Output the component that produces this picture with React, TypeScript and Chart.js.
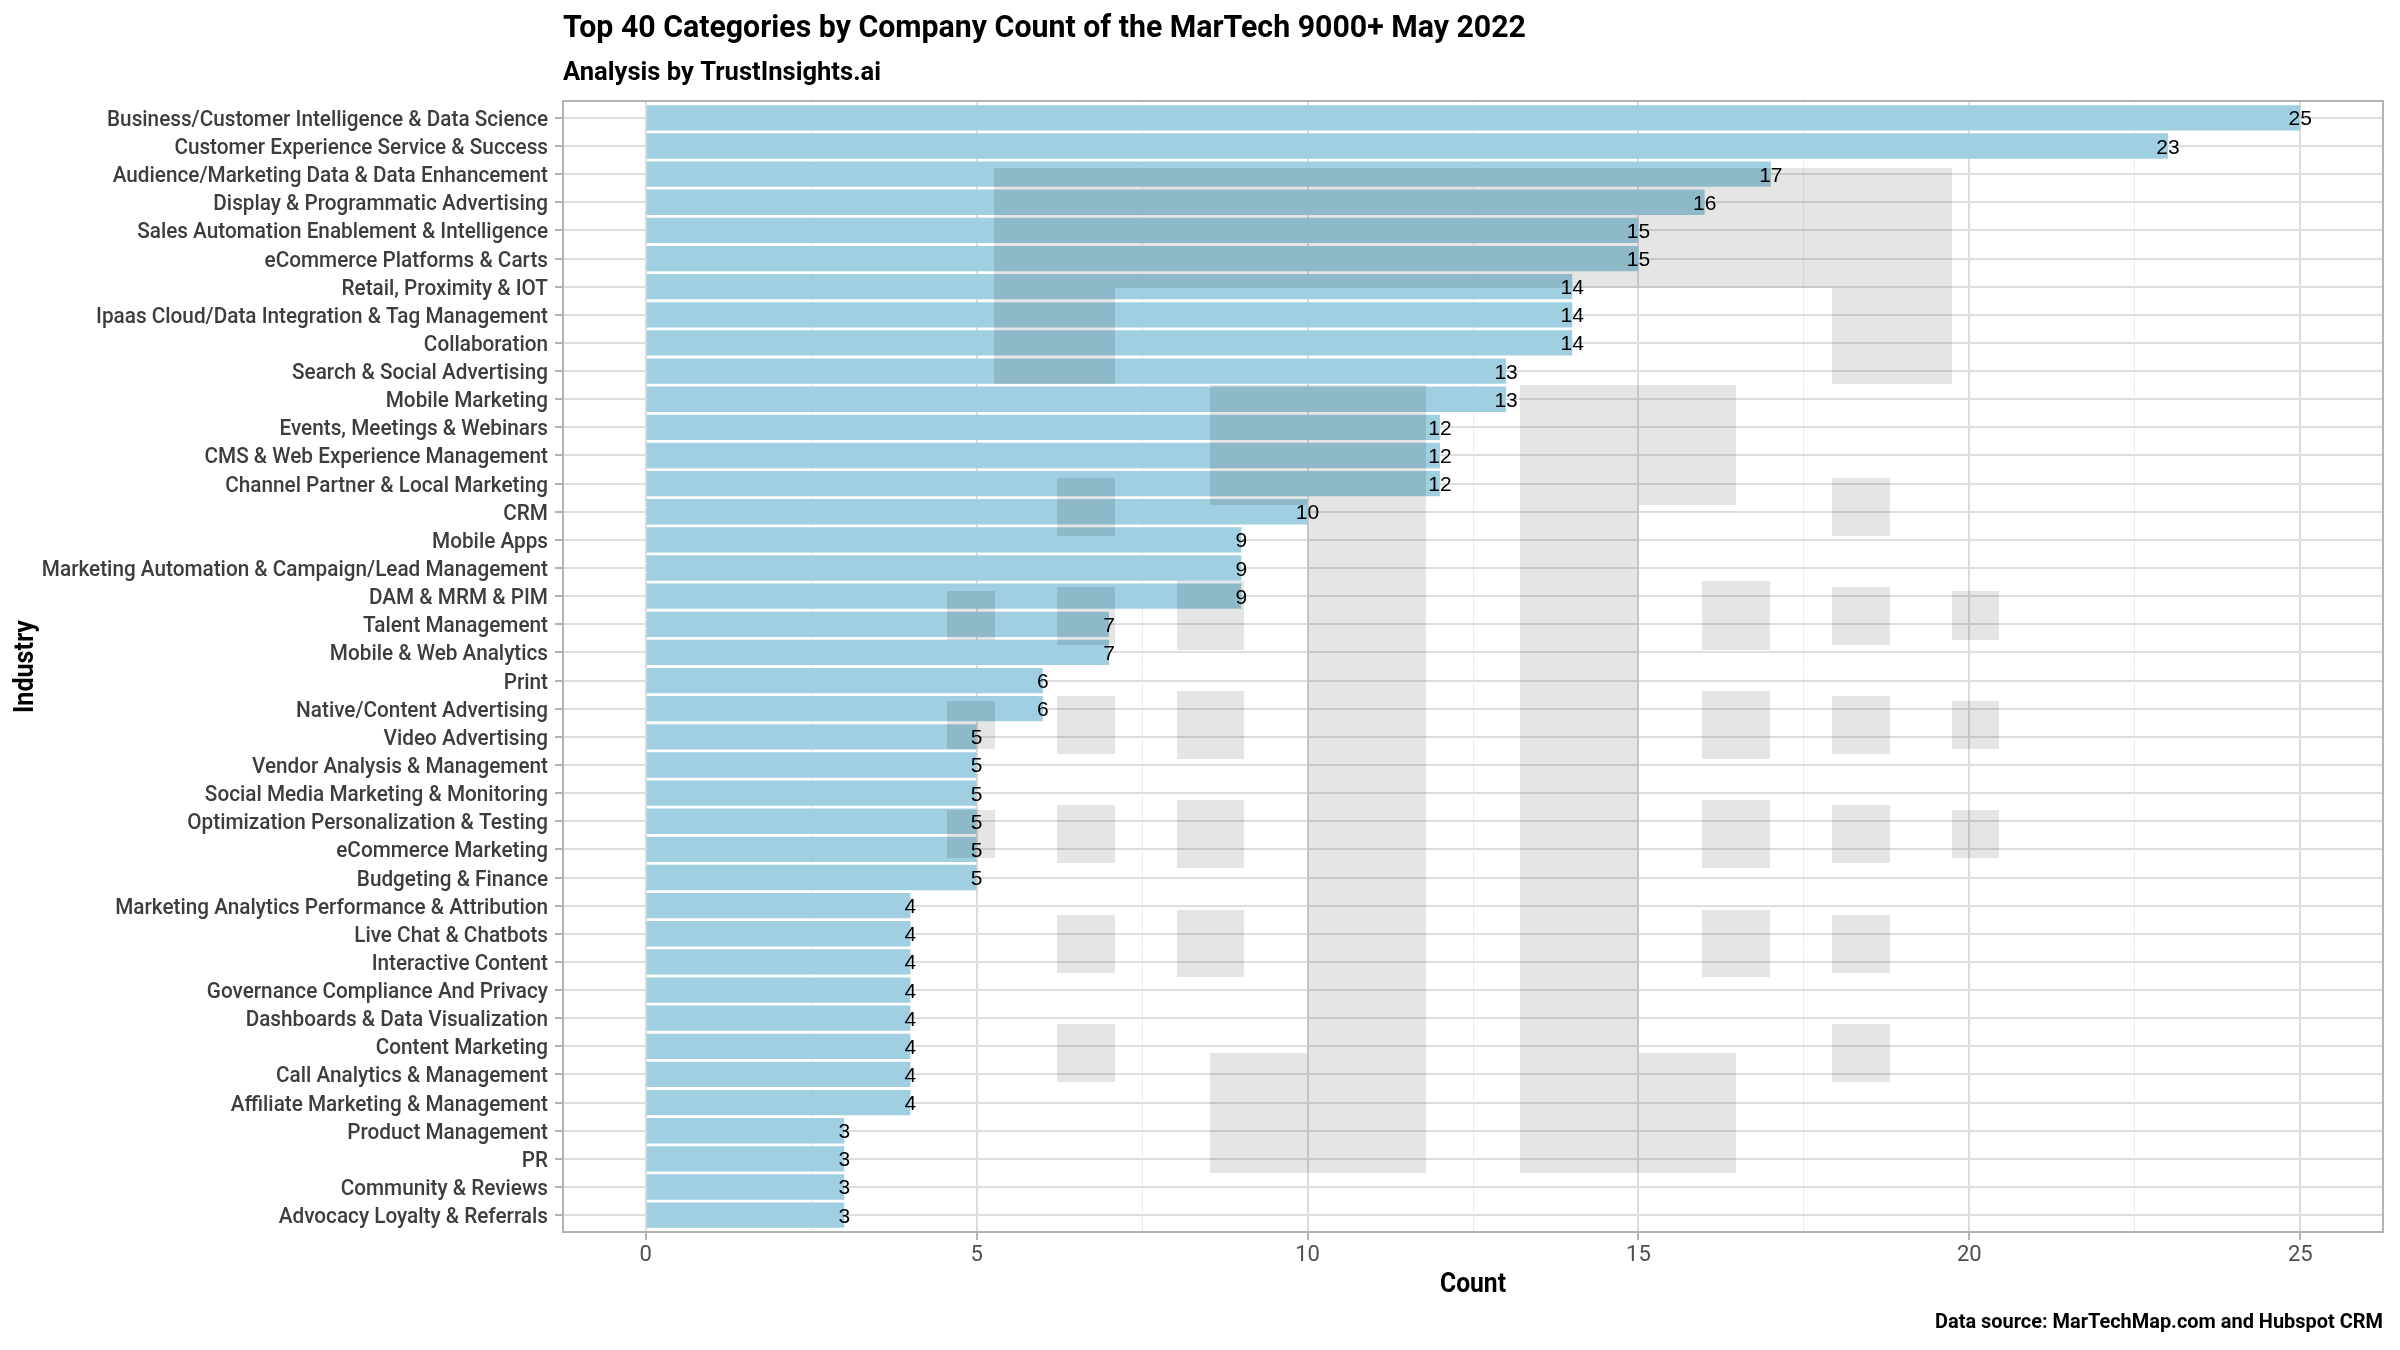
import React, { useEffect, useRef } from "react";
import { Chart, registerables } from "chart.js";

Chart.register(...registerables);

const categories: string[] = [
  "Business/Customer Intelligence & Data Science",
  "Customer Experience Service & Success",
  "Audience/Marketing Data & Data Enhancement",
  "Display & Programmatic Advertising",
  "Sales Automation Enablement & Intelligence",
  "eCommerce Platforms & Carts",
  "Retail, Proximity & IOT",
  "Ipaas Cloud/Data Integration & Tag Management",
  "Collaboration",
  "Search & Social Advertising",
  "Mobile Marketing",
  "Events, Meetings & Webinars",
  "CMS & Web Experience Management",
  "Channel Partner & Local Marketing",
  "CRM",
  "Mobile Apps",
  "Marketing Automation & Campaign/Lead Management",
  "DAM & MRM & PIM",
  "Talent Management",
  "Mobile & Web Analytics",
  "Print",
  "Native/Content Advertising",
  "Video Advertising",
  "Vendor Analysis & Management",
  "Social Media Marketing & Monitoring",
  "Optimization Personalization & Testing",
  "eCommerce Marketing",
  "Budgeting & Finance",
  "Marketing Analytics Performance & Attribution",
  "Live Chat & Chatbots",
  "Interactive Content",
  "Governance Compliance And Privacy",
  "Dashboards & Data Visualization",
  "Content Marketing",
  "Call Analytics & Management",
  "Affiliate Marketing & Management",
  "Product Management",
  "PR",
  "Community & Reviews",
  "Advocacy Loyalty & Referrals",
];

const counts: number[] = [
  25, 23, 17, 16, 15, 15, 14, 14, 14, 13, 13, 12, 12, 12, 10, 9, 9, 9, 7, 7,
  6, 6, 5, 5, 5, 5, 5, 5, 4, 4, 4, 4, 4, 4, 4, 4, 3, 3, 3, 3,
];

const xMajorTicks: number[] = [0, 5, 10, 15, 20, 25];

const TITLE = "Top 40 Categories by Company Count of the MarTech 9000+ May 2022";
const SUBTITLE = "Analysis by TrustInsights.ai";
const CAPTION = "Data source: MarTechMap.com and Hubspot CRM";
const X_TITLE = "Count";
const Y_TITLE = "Industry";

const FONT = 'Roboto, "Noto Sans", "DejaVu Sans", sans-serif';
const NUM_FONT = '"Liberation Sans", Arial, sans-serif';

// Decorative logo watermark blocks (page pixels): [x, y, w, h]
const WATERMARK: [number, number, number, number][] = [
  [994, 168, 958, 120],
  [994, 288, 121, 96],
  [1832, 288, 120, 96],
  [1210, 385, 216, 120],
  [1307, 505, 119, 548],
  [1210, 1053, 216, 120],
  [1520, 385, 216, 120],
  [1520, 505, 119, 548],
  [1520, 1053, 216, 120],
  [1057, 478, 58, 58],
  [1832, 478, 58, 58],
  [947, 591, 48, 49],
  [1057, 587, 58, 58],
  [1177, 581, 67, 69],
  [1702, 581, 68, 69],
  [1832, 587, 58, 58],
  [1952, 591, 47, 49],
  [947, 701, 48, 48],
  [1057, 696, 58, 58],
  [1177, 691, 67, 68],
  [1702, 691, 68, 68],
  [1832, 696, 58, 58],
  [1952, 701, 47, 48],
  [947, 810, 48, 48],
  [1057, 805, 58, 58],
  [1177, 800, 67, 68],
  [1702, 800, 68, 68],
  [1832, 805, 58, 58],
  [1952, 810, 47, 48],
  [1057, 915, 58, 58],
  [1177, 910, 67, 67],
  [1702, 910, 68, 67],
  [1832, 915, 58, 58],
  [1057, 1024, 58, 58],
  [1832, 1024, 58, 58],
];

function fitScale(ctx: CanvasRenderingContext2D, font: string, text: string, target: number) {
  ctx.save();
  ctx.font = font;
  const w = ctx.measureText(text).width;
  ctx.restore();
  return w > 0 ? target / w : 1;
}

function drawText(
  ctx: CanvasRenderingContext2D,
  text: string,
  x: number,
  y: number,
  font: string,
  align: CanvasTextAlign,
  sx: number,
  color: string
) {
  ctx.save();
  ctx.font = font;
  ctx.fillStyle = color;
  ctx.textAlign = align;
  ctx.textBaseline = "alphabetic";
  ctx.translate(x, y);
  ctx.scale(sx, 1);
  ctx.fillText(text, 0, 0);
  ctx.restore();
}

const decorPlugin = {
  id: "decor",
  afterDatasetsDraw(chart: any) {
    const { ctx, chartArea, scales } = chart;
    const xs = scales.x;
    const ys = scales.y;
    ctx.save();
    ctx.fillStyle = "rgba(0,0,0,0.1)";
    for (const [x, y, w, h] of WATERMARK) ctx.fillRect(x, y, w, h);
    ctx.restore();

    const numFont = `21px ${NUM_FONT}`;
    counts.forEach((v, i) => {
      drawText(ctx, String(v), xs.getPixelForValue(v), ys.getPixelForValue(i) + 7.5, numFont, "center", 1, "#000");
    });

    ctx.save();
    ctx.strokeStyle = "#b3b3b3";
    ctx.lineWidth = 2;
    ctx.strokeRect(
      chartArea.left,
      chartArea.top,
      chartArea.right - chartArea.left,
      chartArea.bottom - chartArea.top
    );
    ctx.restore();
  },
  afterDraw(chart: any) {
    const { ctx, chartArea, scales } = chart;
    const ys = scales.y;

    // y category labels
    const yFont = `500 22px ${FONT}`;
    const sxY = fitScale(ctx, yFont, categories[0], 441);
    categories.forEach((c, i) => {
      drawText(ctx, c, chartArea.left - 15, ys.getPixelForValue(i) + 8, yFont, "right", sxY, "#3d3d3d");
    });

    const tFont = `bold 31px ${FONT}`;
    drawText(ctx, TITLE, chartArea.left, 37, tFont, "left", fitScale(ctx, tFont, TITLE, 963), "#000");
    const sFont = `bold 26px ${FONT}`;
    drawText(ctx, SUBTITLE, chartArea.left, 80, sFont, "left", fitScale(ctx, sFont, SUBTITLE, 318), "#000");
    const cFont = `bold 20px ${FONT}`;
    drawText(ctx, CAPTION, chartArea.right, 1328, cFont, "right", fitScale(ctx, cFont, CAPTION, 448), "#000");

    const aFont = `bold 27px ${FONT}`;
    drawText(ctx, X_TITLE, (chartArea.left + chartArea.right) / 2, 1292, aFont, "center", fitScale(ctx, aFont, X_TITLE, 66), "#000");

    ctx.save();
    ctx.translate(33, (chartArea.top + chartArea.bottom) / 2);
    ctx.rotate(-Math.PI / 2);
    drawText(ctx, Y_TITLE, 0, 0, aFont, "center", fitScale(ctx, aFont, Y_TITLE, 93), "#000");
    ctx.restore();
  },
};

export default function App() {
  const canvasRef = useRef<HTMLCanvasElement | null>(null);

  useEffect(() => {
    const canvas = canvasRef.current;
    if (!canvas) return;

    const xTicks: number[] = [];
    xMajorTicks.forEach((v, i) => {
      xTicks.push(v);
      if (i < xMajorTicks.length - 1) xTicks.push((v + xMajorTicks[i + 1]) / 2);
    });
    const isMajor = (v: number) => xMajorTicks.includes(v);

    const chart = new Chart(canvas, {
      type: "bar",
      data: {
        datasets: [
          {
            label: "Count",
            data: counts.map((c, i) => ({ x: c, y: i })),
            backgroundColor: "#9fcfe0",
            borderWidth: 0,
            categoryPercentage: 0.9,
            barPercentage: 1,
          },
        ],
      },
      options: {
        indexAxis: "y",
        animation: false,
        responsive: false,
        maintainAspectRatio: false,
        devicePixelRatio: 1,
        layout: { padding: { top: 101, right: 17, left: 0, bottom: 0 } },
        plugins: {
          legend: { display: false },
          title: { display: false },
          tooltip: { enabled: false },
        },
        scales: {
          x: {
            type: "linear",
            position: "bottom",
            min: -1.25,
            max: 26.25,
            offset: false,
            afterBuildTicks: (scale: any) => {
              scale.ticks = xTicks.map((v) => ({ value: v }));
            },
            afterFit: (scale: any) => {
              scale.height = 118;
            },
            border: { display: false },
            grid: {
              color: (ctx: any) => (ctx.tick && isMajor(ctx.tick.value) ? "#dcdcdc" : "#ececec"),
              lineWidth: (ctx: any) => (ctx.tick && isMajor(ctx.tick.value) ? 2 : 1),
              tickColor: (ctx: any) => (ctx.tick && isMajor(ctx.tick.value) ? "#b3b3b3" : "rgba(0,0,0,0)"),
              tickLength: 8,
              tickWidth: 2,
              drawTicks: true,
            },
            ticks: {
              autoSkip: false,
              maxRotation: 0,
              padding: 2,
              color: "#4d4d4d",
              font: { family: FONT, size: 22 },
              callback: (v: any) => (isMajor(Number(v)) ? String(v) : ""),
            },
          },
          y: {
            type: "linear",
            reverse: true,
            offset: false,
            min: -0.6,
            max: categories.length - 0.4,
            afterBuildTicks: (scale: any) => {
              scale.ticks = categories.map((_, i) => ({ value: i }));
            },
            afterFit: (scale: any) => {
              scale.width = 563;
            },
            border: { display: false },
            grid: {
              offset: false,
              color: "#dedede",
              lineWidth: 2,
              tickColor: "#b3b3b3",
              tickLength: 8,
              tickWidth: 2,
            },
            ticks: {
              display: false,
              autoSkip: false,
            },
          },
        },
      },
      plugins: [decorPlugin],
    } as any);

    return () => chart.destroy();
  }, []);

  return (
    <div style={{ position: "absolute", left: 0, top: 0, width: 2400, height: 1350, background: "#fff" }}>
      <canvas ref={canvasRef} width={2400} height={1350} style={{ width: 2400, height: 1350 }} />
    </div>
  );
}
